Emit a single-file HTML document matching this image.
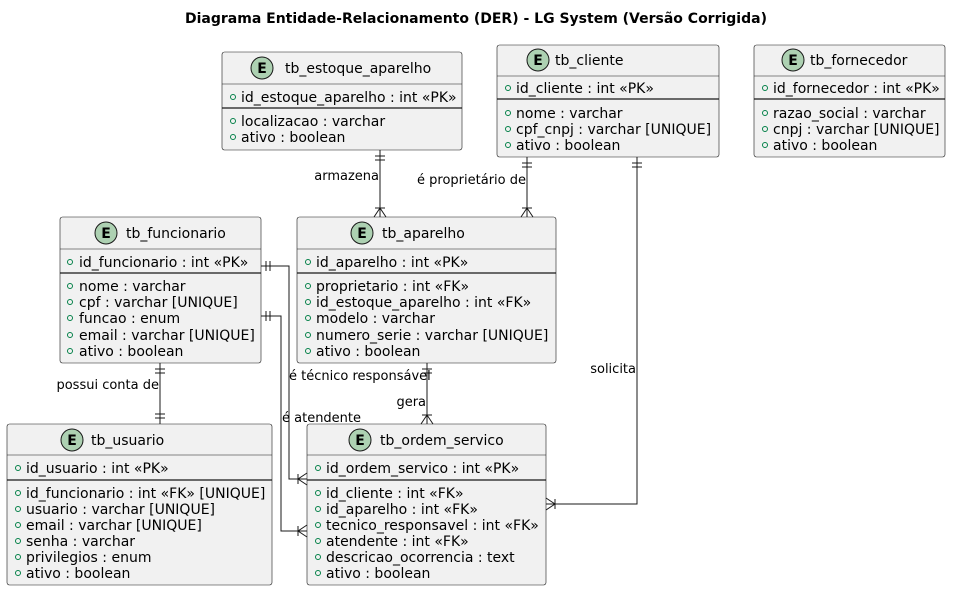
<!DOCTYPE html>
<html><head><meta charset="utf-8"><style>
html,body{margin:0;padding:0;background:#fff}
svg{display:block}
text{font-family:"DejaVu Sans","Liberation Sans",sans-serif;font-size:14px;fill:#000}
.t{font-weight:bold}
.box{fill:#F1F1F1;stroke:#181818;stroke-width:0.6}
.ln{stroke:#181818;stroke-width:1;fill:none}
.th{stroke:#181818;stroke-width:1.3}
.b{fill:none;stroke:#038048;stroke-width:1}
.c{fill:#ADD1B2;stroke:#181818;stroke-width:1}
.lb{font-size:13px}
</style></head><body>
<svg width="953" height="591" viewBox="0 0 953 591" xmlns="http://www.w3.org/2000/svg">
<text x="476" y="23" text-anchor="middle" class="t">Diagrama Entidade-Relacionamento (DER) - LG System (Versão Corrigida)</text>

<!-- tb_estoque_aparelho -->
<rect class="box" x="222" y="52" width="240" height="98" rx="2.5"/>
<circle class="c" cx="262" cy="68" r="11"/><text x="262" y="73" text-anchor="middle" class="t">E</text>
<text x="285" y="73">tb_estoque_aparelho</text>
<line class="ln" x1="222" y1="84" x2="462" y2="84" style="stroke-width:0.6"/>
<circle class="b" cx="233" cy="97" r="2.5"/><text x="241" y="102">id_estoque_aparelho : int «PK»</text>
<line class="th" x1="222" y1="108" x2="462" y2="108"/>
<circle class="b" cx="233" cy="121" r="2.5"/><text x="241" y="126">localizacao : varchar</text>
<circle class="b" cx="233" cy="137" r="2.5"/><text x="241" y="142">ativo : boolean</text>

<!-- tb_cliente -->
<rect class="box" x="497" y="45" width="222" height="112" rx="2.5"/>
<circle class="c" cx="538" cy="60" r="11"/><text x="538" y="65" text-anchor="middle" class="t">E</text>
<text x="555" y="65">tb_cliente</text>
<line class="ln" x1="497" y1="76" x2="719" y2="76" style="stroke-width:0.6"/>
<circle class="b" cx="508" cy="88" r="2.5"/><text x="516" y="93">id_cliente : int «PK»</text>
<line class="th" x1="497" y1="99" x2="719" y2="99"/>
<circle class="b" cx="508" cy="113" r="2.5"/><text x="516" y="118">nome : varchar</text>
<circle class="b" cx="508" cy="129" r="2.5"/><text x="516" y="134">cpf_cnpj : varchar [UNIQUE]</text>
<circle class="b" cx="508" cy="145" r="2.5"/><text x="516" y="150">ativo : boolean</text>

<!-- tb_fornecedor -->
<rect class="box" x="754" y="45" width="191" height="112" rx="2.5"/>
<circle class="c" cx="793" cy="60" r="11"/><text x="793" y="65" text-anchor="middle" class="t">E</text>
<text x="810" y="65">tb_fornecedor</text>
<line class="ln" x1="754" y1="76" x2="945" y2="76" style="stroke-width:0.6"/>
<circle class="b" cx="765" cy="88" r="2.5"/><text x="773" y="93">id_fornecedor : int «PK»</text>
<line class="th" x1="754" y1="99" x2="945" y2="99"/>
<circle class="b" cx="765" cy="113" r="2.5"/><text x="773" y="118">razao_social : varchar</text>
<circle class="b" cx="765" cy="129" r="2.5"/><text x="773" y="134">cnpj : varchar [UNIQUE]</text>
<circle class="b" cx="765" cy="145" r="2.5"/><text x="773" y="150">ativo : boolean</text>

<!-- tb_funcionario -->
<rect class="box" x="60" y="217" width="201" height="146" rx="2.5"/>
<circle class="c" cx="106" cy="233" r="11"/><text x="106" y="238" text-anchor="middle" class="t">E</text>
<text x="126" y="238">tb_funcionario</text>
<line class="ln" x1="60" y1="249" x2="261" y2="249" style="stroke-width:0.6"/>
<circle class="b" cx="70" cy="262" r="2.5"/><text x="79" y="267">id_funcionario : int «PK»</text>
<line class="th" x1="60" y1="273" x2="261" y2="273"/>
<circle class="b" cx="70" cy="286" r="2.5"/><text x="79" y="291">nome : varchar</text>
<circle class="b" cx="70" cy="302" r="2.5"/><text x="79" y="307">cpf : varchar [UNIQUE]</text>
<circle class="b" cx="70" cy="318" r="2.5"/><text x="79" y="323">funcao : enum</text>
<circle class="b" cx="70" cy="335" r="2.5"/><text x="79" y="340">email : varchar [UNIQUE]</text>
<circle class="b" cx="70" cy="351" r="2.5"/><text x="79" y="356">ativo : boolean</text>

<!-- tb_aparelho -->
<rect class="box" x="297" y="217" width="259" height="146" rx="2.5"/>
<circle class="c" cx="362" cy="233" r="11"/><text x="362" y="238" text-anchor="middle" class="t">E</text>
<text x="382" y="238">tb_aparelho</text>
<line class="ln" x1="297" y1="249" x2="556" y2="249" style="stroke-width:0.6"/>
<circle class="b" cx="308" cy="262" r="2.5"/><text x="316" y="267">id_aparelho : int «PK»</text>
<line class="th" x1="297" y1="273" x2="556" y2="273"/>
<circle class="b" cx="308" cy="286" r="2.5"/><text x="316" y="291">proprietario : int «FK»</text>
<circle class="b" cx="308" cy="302" r="2.5"/><text x="316" y="307">id_estoque_aparelho : int «FK»</text>
<circle class="b" cx="308" cy="318" r="2.5"/><text x="316" y="323">modelo : varchar</text>
<circle class="b" cx="308" cy="335" r="2.5"/><text x="316" y="340">numero_serie : varchar [UNIQUE]</text>
<circle class="b" cx="308" cy="351" r="2.5"/><text x="316" y="356">ativo : boolean</text>

<!-- tb_usuario -->
<rect class="box" x="7" y="424" width="265" height="161" rx="2.5"/>
<circle class="c" cx="72" cy="440" r="11"/><text x="72" y="445" text-anchor="middle" class="t">E</text>
<text x="91" y="445">tb_usuario</text>
<line class="ln" x1="7" y1="455" x2="272" y2="455" style="stroke-width:0.6"/>
<circle class="b" cx="18" cy="468" r="2.5"/><text x="26" y="473">id_usuario : int «PK»</text>
<line class="th" x1="7" y1="480" x2="272" y2="480"/>
<circle class="b" cx="18" cy="493" r="2.5"/><text x="26" y="498">id_funcionario : int «FK» [UNIQUE]</text>
<circle class="b" cx="18" cy="509" r="2.5"/><text x="26" y="514">usuario : varchar [UNIQUE]</text>
<circle class="b" cx="18" cy="525" r="2.5"/><text x="26" y="530">email : varchar [UNIQUE]</text>
<circle class="b" cx="18" cy="541" r="2.5"/><text x="26" y="546">senha : varchar</text>
<circle class="b" cx="18" cy="557" r="2.5"/><text x="26" y="562">privilegios : enum</text>
<circle class="b" cx="18" cy="573" r="2.5"/><text x="26" y="578">ativo : boolean</text>

<!-- tb_ordem_servico -->
<rect class="box" x="307" y="424" width="239" height="161" rx="2.5"/>
<circle class="c" cx="360" cy="440" r="11"/><text x="360" y="445" text-anchor="middle" class="t">E</text>
<text x="380" y="445">tb_ordem_servico</text>
<line class="ln" x1="307" y1="455" x2="546" y2="455" style="stroke-width:0.6"/>
<circle class="b" cx="318" cy="468" r="2.5"/><text x="326" y="473">id_ordem_servico : int «PK»</text>
<line class="th" x1="307" y1="480" x2="546" y2="480"/>
<circle class="b" cx="318" cy="493" r="2.5"/><text x="326" y="498">id_cliente : int «FK»</text>
<circle class="b" cx="318" cy="509" r="2.5"/><text x="326" y="514">id_aparelho : int «FK»</text>
<circle class="b" cx="318" cy="525" r="2.5"/><text x="326" y="530">tecnico_responsavel : int «FK»</text>
<circle class="b" cx="318" cy="541" r="2.5"/><text x="326" y="546">atendente : int «FK»</text>
<circle class="b" cx="318" cy="557" r="2.5"/><text x="326" y="562">descricao_ocorrencia : text</text>
<circle class="b" cx="318" cy="573" r="2.5"/><text x="326" y="578">ativo : boolean</text>

<!-- connectors -->
<g class="ln">
<!-- estoque -> aparelho -->
<path d="M380 150 V217"/><path d="M375 156 H385 M375 160 H385"/><path d="M375 208 H385 M374 217 L380 208 L386 217"/>
<!-- cliente -> aparelho -->
<path d="M527 157 V217"/><path d="M522 163 H532 M522 167 H532"/><path d="M522 208 H532 M521 217 L527 208 L533 217"/>
<!-- cliente -> ordem -->
<path d="M637 157 V504 H546"/><path d="M632 163 H642 M632 167 H642"/><path d="M555 499 V509 M546 498 L555 504 L546 510"/>
<!-- funcionario -> usuario -->
<path d="M160 363 V424"/><path d="M155 369 H165 M155 373 H165"/><path d="M155 414 H165 M155 418 H165"/>
<!-- aparelho -> ordem -->
<path d="M427 363 V424"/><path d="M422 369 H432 M422 373 H432"/><path d="M422 415 H432 M421 424 L427 415 L433 424"/>
<!-- funcionario PK -> ordem (tecnico) -->
<path d="M261 266 H289 V479 H307"/><path d="M266 261 V271 M270 261 V271"/><path d="M298 474 V484 M307 473 L298 479 L307 485"/>
<!-- funcionario funcao -> ordem (atendente) -->
<path d="M261 316 H281 V531 H307"/><path d="M266 311 V321 M270 311 V321"/><path d="M298 526 V536 M307 525 L298 531 L307 537"/>
</g>
<text class="lb" x="379" y="180" text-anchor="end">armazena</text>
<text class="lb" x="526" y="184" text-anchor="end">é proprietário de</text>
<text class="lb" x="636" y="373" text-anchor="end">solicita</text>
<text class="lb" x="159" y="389" text-anchor="end">possui conta de</text>
<text class="lb" x="289" y="380">é técnico responsável</text>
<text class="lb" x="426" y="406" text-anchor="end">gera</text>
<text class="lb" x="282" y="422">é atendente</text>
</svg>
</body></html>
